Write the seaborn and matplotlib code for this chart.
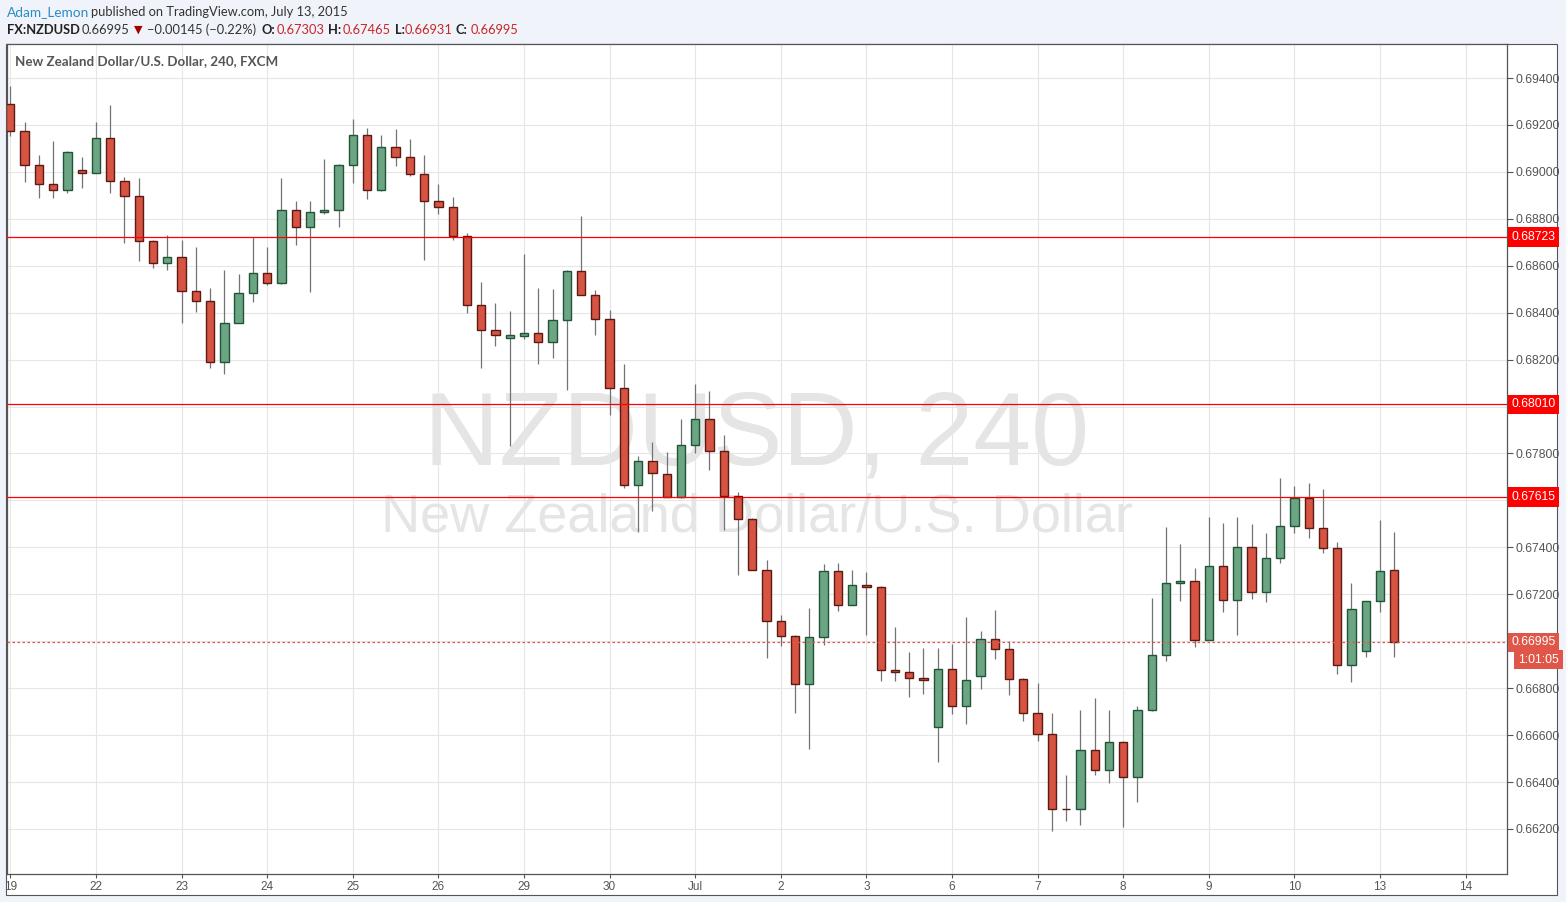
import numpy as np
import matplotlib.pyplot as plt
import matplotlib.transforms as mtransforms
from matplotlib.patches import Rectangle
import seaborn as sns

# NZDUSD 4h candles, 19 Jun - 13 Jul 2015
opens = [0.69289, 0.69175, 0.69030, 0.68949, 0.68923, 0.69009, 0.68996, 0.69145, 0.68962, 0.68898,
         0.68706, 0.68613, 0.68638, 0.68494, 0.68451, 0.68191, 0.68357, 0.68485, 0.68570, 0.68528,
         0.68838, 0.68766, 0.68830, 0.68838, 0.69030, 0.69157, 0.68923, 0.69106, 0.69064, 0.68991,
         0.68877, 0.68851, 0.68728, 0.68434, 0.68328, 0.68294, 0.68302, 0.68315, 0.68277, 0.68370,
         0.68579, 0.68477, 0.68374, 0.68077, 0.67664, 0.67770, 0.67713, 0.67616, 0.67837, 0.67948,
         0.67811, 0.67620, 0.67522, 0.67305, 0.67088, 0.67024, 0.66816, 0.67020, 0.67301, 0.67156,
         0.67241, 0.67233, 0.66878, 0.66870, 0.66844, 0.66635, 0.66882, 0.66725, 0.66852, 0.67010,
         0.66967, 0.66840, 0.66695, 0.66606, 0.66287, 0.66287, 0.66538, 0.66452, 0.66572, 0.66423,
         0.66708, 0.66942, 0.67248, 0.67257, 0.67006, 0.67321, 0.67176, 0.67401, 0.67210, 0.67355,
         0.67491, 0.67610, 0.67482, 0.67397, 0.66899, 0.66959, 0.67172, 0.67303]
highs = [0.69367, 0.69214, 0.69074, 0.69133, 0.69088, 0.69064, 0.69214, 0.69287, 0.68980, 0.68972,
         0.68710, 0.68729, 0.68708, 0.68682, 0.68504, 0.68580, 0.68563, 0.68723, 0.68678, 0.68972,
         0.68874, 0.68874, 0.69057, 0.69032, 0.69227, 0.69189, 0.69159, 0.69184, 0.69142, 0.69070,
         0.68950, 0.68893, 0.68740, 0.68529, 0.68440, 0.68406, 0.68652, 0.68504, 0.68499, 0.68580,
         0.68810, 0.68496, 0.68410, 0.68180, 0.67789, 0.67847, 0.67807, 0.67949, 0.68094, 0.68068,
         0.67877, 0.67634, 0.67525, 0.67345, 0.67111, 0.67026, 0.67140, 0.67328, 0.67332, 0.67302,
         0.67294, 0.67237, 0.67062, 0.66956, 0.66969, 0.66969, 0.66990, 0.67105, 0.67045, 0.67135,
         0.67001, 0.66844, 0.66824, 0.66692, 0.66428, 0.66705, 0.66760, 0.66705, 0.66575, 0.66722,
         0.67186, 0.67488, 0.67416, 0.67313, 0.67530, 0.67505, 0.67530, 0.67501, 0.67462, 0.67696,
         0.67662, 0.67675, 0.67650, 0.67423, 0.67250, 0.67173, 0.67518, 0.67465]
lows = [0.69152, 0.68956, 0.68888, 0.68888, 0.68909, 0.68931, 0.68994, 0.68909, 0.68696, 0.68620,
        0.68589, 0.68584, 0.68355, 0.68403, 0.68165, 0.68140, 0.68355, 0.68445, 0.68518, 0.68522,
        0.68688, 0.68488, 0.68820, 0.68765, 0.68952, 0.68884, 0.68918, 0.69024, 0.68982, 0.68624,
        0.68820, 0.68709, 0.68399, 0.68165, 0.68258, 0.67833, 0.68288, 0.68182, 0.68207, 0.68071,
        0.68475, 0.68305, 0.67965, 0.67654, 0.67464, 0.67556, 0.67616, 0.67610, 0.67803, 0.67729,
        0.67472, 0.67282, 0.67303, 0.66929, 0.66980, 0.66695, 0.66542, 0.66984, 0.67129, 0.67155,
        0.67027, 0.66830, 0.66830, 0.66762, 0.66774, 0.66485, 0.66689, 0.66647, 0.66796, 0.66923,
        0.66770, 0.66660, 0.66574, 0.66191, 0.66234, 0.66217, 0.66430, 0.66397, 0.66209, 0.66315,
        0.66702, 0.66915, 0.67170, 0.66974, 0.67006, 0.67123, 0.67026, 0.67179, 0.67166, 0.67332,
        0.67460, 0.67438, 0.67374, 0.66860, 0.66826, 0.66933, 0.67123, 0.66931]
closes = [0.69175, 0.69030, 0.68949, 0.68923, 0.69085, 0.68996, 0.69145, 0.68962, 0.68898, 0.68706,
          0.68613, 0.68638, 0.68494, 0.68451, 0.68191, 0.68357, 0.68485, 0.68570, 0.68528, 0.68838,
          0.68766, 0.68830, 0.68838, 0.69030, 0.69157, 0.68923, 0.69106, 0.69064, 0.68991, 0.68877,
          0.68851, 0.68728, 0.68434, 0.68328, 0.68306, 0.68304, 0.68315, 0.68277, 0.68370, 0.68579,
          0.68477, 0.68374, 0.68077, 0.67664, 0.67770, 0.67715, 0.67616, 0.67837, 0.67948, 0.67811,
          0.67620, 0.67522, 0.67305, 0.67088, 0.67024, 0.66816, 0.67020, 0.67301, 0.67156, 0.67241,
          0.67233, 0.66878, 0.66870, 0.66844, 0.66835, 0.66882, 0.66725, 0.66835, 0.67010, 0.66967,
          0.66840, 0.66695, 0.66606, 0.66287, 0.66284, 0.66538, 0.66452, 0.66572, 0.66423, 0.66708,
          0.66942, 0.67248, 0.67257, 0.67006, 0.67321, 0.67176, 0.67401, 0.67210, 0.67355, 0.67491,
          0.67610, 0.67482, 0.67397, 0.66899, 0.67138, 0.67172, 0.67299, 0.66995]

day_labels = ['19', '22', '23', '24', '25', '26', '29', '30', 'Jul', '2', '3', '6', '7', '8',
              '9', '10', '13', '14']
candles_per_day = 6
level_lines = [0.68723, 0.68010, 0.67615]
last_price = 0.66995
countdown = '1:01:05'

sns.set_theme(style="white")
plt.rcParams['font.family'] = ['Liberation Sans', 'DejaVu Sans']

W, H = 1566, 902
UP, UP_EDGE = '#6ba583', '#225437'
DOWN, DOWN_EDGE = '#d75442', '#5b1a13'
WICK = '#737375'
AXC = '#555555'

fig = plt.figure(figsize=(W / 100, H / 100), dpi=100, facecolor='#f0f3fa')
fig.patches.append(Rectangle((6 / W, 1 - 895 / H), 1551 / W, 851 / H, transform=fig.transFigure,
                             fc='white', ec=AXC, lw=0.8, zorder=-10))

ax = fig.add_axes([6.5 / W, 1 - 874 / H, 1500.5 / W, 830 / H])
ax.set_zorder(1)
ax.set_facecolor('white')
ax.set_axisbelow(True)

o = np.array(opens)
h = np.array(highs)
l = np.array(lows)
c = np.array(closes)
x = np.arange(len(o))
up = c >= o

# wicks then bodies
ax.vlines(x, l, h, color=WICK, lw=0.9, zorder=2)
body_lo = np.minimum(o, c)
body_h = np.abs(c - o)
ax.bar(x[up], body_h[up], bottom=body_lo[up], width=0.58, color=UP,
       edgecolor=UP_EDGE, linewidth=1.0, zorder=3)
ax.bar(x[~up], body_h[~up], bottom=body_lo[~up], width=0.58, color=DOWN,
       edgecolor=DOWN_EDGE, linewidth=1.0, zorder=3)

# horizontal levels
for lv in level_lines:
    ax.axhline(lv, color='#ff0000', lw=0.9, zorder=4)
ax.axhline(last_price, color='#e0574a', lw=0.9, ls=(0, (2, 2)), zorder=4)

ax.set_xlim(-0.27, 104.9)
ax.set_ylim(0.66008, 0.69545)

ticks_x = np.arange(len(day_labels)) * candles_per_day
ax.set_xticks(ticks_x)
ax.set_xticklabels(day_labels)

# right price scale; labels hidden where a price tag sits on top of them
yticks = np.arange(0.662, 0.6941, 0.002)
tags = level_lines + [last_price]
ylabels = ['' if min(abs(v - t) for t in tags) < 0.0004 else f"{v:.5f}" for v in yticks]
ax.set_yticks(yticks)
ax.set_yticklabels(ylabels)
ax.yaxis.tick_right()
ax.grid(True, color='#e6e6e6', lw=0.8)
ax.tick_params(axis='y', direction='out', length=4, width=0.8, color=AXC,
               labelcolor=AXC, labelsize=8.8, pad=2, right=True, left=False)
ax.tick_params(axis='x', direction='out', length=3, width=0.8, color=AXC,
               labelcolor=AXC, labelsize=8.5, pad=2, bottom=True)
for lab in ax.get_xticklabels():
    lab.set_family(['Liberation Sans Narrow', 'Liberation Sans', 'DejaVu Sans'])
for sp in ax.spines.values():
    sp.set_color(AXC)
    sp.set_linewidth(0.9)

# price tags on the right axis
trans = mtransforms.blended_transform_factory(ax.transAxes, ax.transData)
for lv in level_lines:
    ax.annotate(f"{lv:.5f}", xy=(1.0, lv), xycoords=trans, xytext=(3.2, 0),
                textcoords='offset points', ha='left', va='center', color='white',
                fontsize=8.8, annotation_clip=False, zorder=6,
                bbox=dict(boxstyle='square,pad=0.3', fc='#ff0000', ec='none'))
ax.annotate(f"{last_price:.5f}", xy=(1.0, last_price), xycoords=trans, xytext=(3.2, 0),
            textcoords='offset points', ha='left', va='center', color='white',
            fontsize=8.8, annotation_clip=False, zorder=6,
            bbox=dict(boxstyle='square,pad=0.3', fc='#e0574a', ec='none'))
ax.annotate(countdown, xy=(1.0, last_price), xycoords=trans, xytext=(8, -12.5),
            textcoords='offset points', ha='left', va='center', color='white',
            fontsize=8.8, annotation_clip=False, zorder=6,
            bbox=dict(boxstyle='square,pad=0.3', fc='#e0574a', ec='none'))

# watermark
ax.text(757 / W, 1 - 465 / H, 'NZDUSD, 240', transform=fig.transFigure, ha='center',
        va='baseline', fontsize=75, color='#e5e5e5', zorder=1)
ax.text(757 / W, 1 - 532 / H, 'New Zealand Dollar/U.S. Dollar', transform=fig.transFigure,
        ha='center', va='baseline', fontsize=39, color='#e5e5e5', zorder=1)

# chart title inside the pane
ax.text(15 / W, 1 - 61 / H, 'New Zealand Dollar/U.S. Dollar, 240, FXCM', transform=fig.transFigure,
        ha='left', va='center', fontsize=9.6, fontweight='bold', color='#555555',
        family=['Lato', 'DejaVu Sans'], zorder=6)

# header lines
hdr = ['Lato', 'DejaVu Sans']
fig.text(7 / W, 1 - 12 / H, 'Adam_Lemon', ha='left', va='center', fontsize=9.8,
         color='#2a8cc4', family=hdr)
fig.text(91 / W, 1 - 12 / H, 'published on TradingView.com, July 13, 2015', ha='left',
         va='center', fontsize=9.3, color='#333333', family=hdr)

y2 = 1 - 30 / H
pieces = [
    (7, 'FX:NZDUSD', '#222222', 'bold'),
    (82, '0.66995', '#333333', 'normal'),
    (147, '\u22120.00145 (\u22120.22%)', '#333333', 'normal'),
    (262, 'O:', '#222222', 'bold'),
    (277, '0.67303', '#c62828', 'normal'),
    (328, 'H:', '#222222', 'bold'),
    (343, '0.67465', '#c62828', 'normal'),
    (395, 'L:', '#222222', 'bold'),
    (405, '0.66931', '#c62828', 'normal'),
    (455, 'C:', '#222222', 'bold'),
    (471, '0.66995', '#c62828', 'normal'),
]
for px, txt, col, wt in pieces:
    fig.text(px / W, y2, txt, ha='left', va='center', fontsize=9.3, color=col,
             fontweight=wt, family=hdr)
fig.text(134 / W, y2, '\u25bc', ha='left', va='center', fontsize=8, color='#a00000',
         family=['DejaVu Sans'])

fig.savefig('out.png', dpi=100, facecolor=fig.get_facecolor())
